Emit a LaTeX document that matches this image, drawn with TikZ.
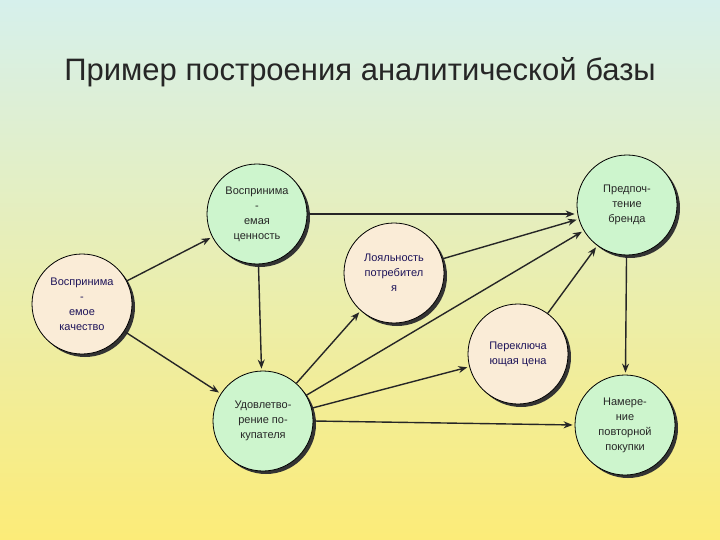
\documentclass[tikz,border=0pt]{standalone}
\usepackage{fontspec}
\setmainfont{Liberation Sans}
\usetikzlibrary{shadows,arrows.meta}
\definecolor{bgtop}{RGB}{214,240,236}
\definecolor{bgbot}{RGB}{252,236,120}
\definecolor{gfill}{RGB}{205,245,205}
\definecolor{bfill}{RGB}{250,236,215}
\definecolor{tblue}{RGB}{30,20,90}
\begin{document}
\begin{tikzpicture}[x=1pt,y=-1pt,
  nd/.style={circle,draw=black,line width=0.8pt,minimum size=100pt,inner sep=0pt,align=center,font=\fontsize{11}{15}\selectfont,
    drop shadow={shadow xshift=3pt,shadow yshift=-3pt,fill=black!80,opacity=1}},
  gn/.style={nd,fill=gfill,text=black!85},
  bn/.style={nd,fill=bfill,text=tblue},
  ar/.style={-{Stealth[length=9pt,width=7pt]},line width=1.4pt,black!85,shorten >=2pt}]
\shade[top color=bgtop,bottom color=bgbot] (0,0) rectangle (720,540);
\useasboundingbox (0,0) rectangle (720,540);
\node[font=\fontsize{31}{36}\selectfont,text=black!85] (title) at (360,72) {Пример построения аналитической базы};
\node[gn] (val) at (257,214) {Воспринима\\-\\емая\\ценность};
\node[bn] (qual) at (82,304) {Воспринима\\-\\емое\\качество};
\node[gn] (sat) at (263,421) {Удовлетво-\\рение по-\\купателя};
\node[bn] (loy) at (394,273) {Лояльность\\потребител\\я};
\node[bn] (sw) at (518,354) {Переключа\\ющая цена};
\node[gn] (pref) at (627,205) {Предпоч-\\тение\\бренда};
\node[gn] (int) at (625,425) {Намере-\\ние\\повторной\\покупки};
\draw[ar] (qual) -- (val);
\draw[ar] (qual) -- (sat);
\draw[ar] (val.east) -- (pref.west |- val.east);
\draw[ar] (val) -- (sat);
\draw[ar] (sat) -- (loy);
\draw[ar] (sat) -- (pref);
\draw[ar] (sat) -- (sw);
\draw[ar] (sat.east) -- (int.west);
\draw[ar] (loy) -- (pref);
\draw[ar] (sw) -- (pref);
\draw[ar] (pref) -- (int);
\end{tikzpicture}
\end{document}
